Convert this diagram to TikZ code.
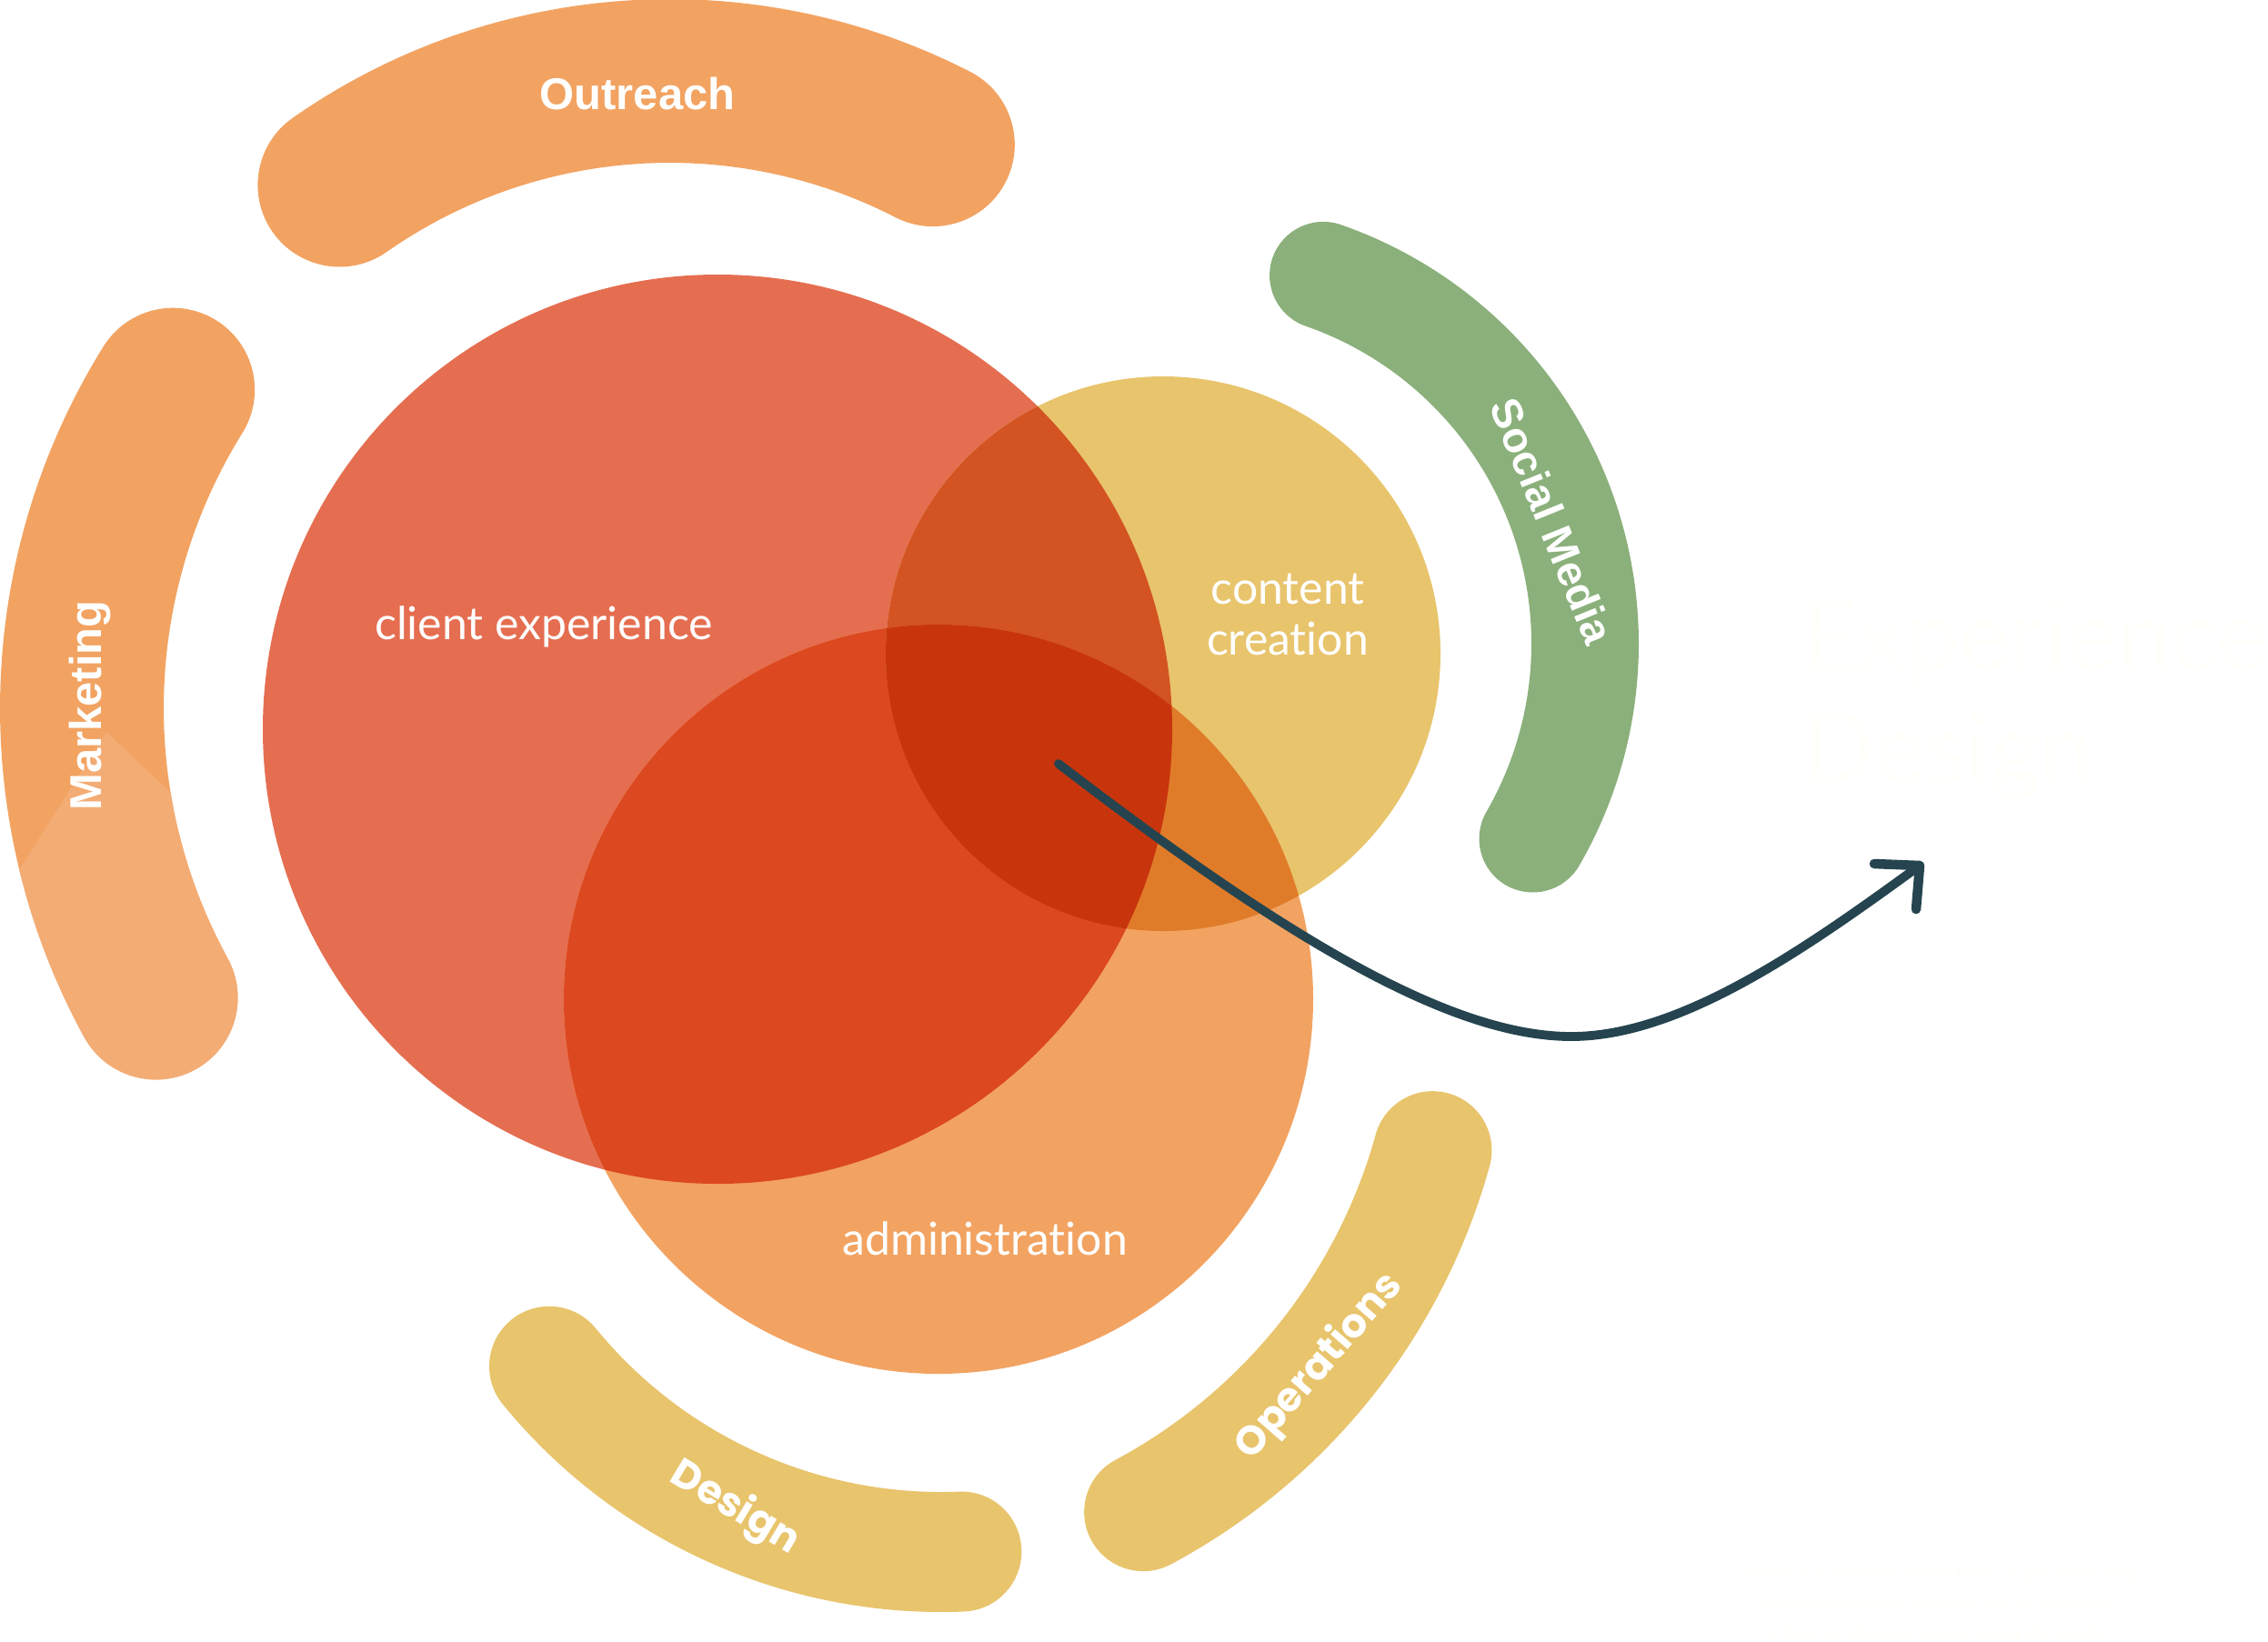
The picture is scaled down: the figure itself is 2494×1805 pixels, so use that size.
\documentclass[tikz,border=0pt]{standalone}
\usepackage{fontspec}
\setmainfont{Liberation Sans}
\newfontfamily\latofont{Lato}[Ligatures=CommonOff]
\newfontfamily\popfont{Poppins}
\usetikzlibrary{calc}
\definecolor{cRed}{HTML}{E56E51}
\definecolor{cYel}{HTML}{E8C46C}
\definecolor{cOra}{HTML}{F2A362}
\definecolor{cRA}{HTML}{DC4820}
\definecolor{cRY}{HTML}{D35322}
\definecolor{cYA}{HTML}{E07C29}
\definecolor{cRYA}{HTML}{C8350D}
\definecolor{cOraLight}{HTML}{F3AC74}
\definecolor{cGreen}{HTML}{8BB07B}
\definecolor{cArrow}{HTML}{25444F}
\definecolor{cCream}{HTML}{FFFEFA}
% band: #1 options, #2 cx, #3 cy, #4 mid radius, #5 half width, #6 start angle, #7 end angle
\newcommand\bandpath[7]{\path[#1] ($(#2,#3)+({#6}:{#4+#5})$) arc[start angle={#6}, end angle={#7}, radius={#4+#5}] arc[start angle={#7}, end angle={#7+180}, radius={#5}] arc[start angle={#7}, end angle={#6}, radius={#4-#5}] arc[start angle={#6+180}, end angle={#6+360}, radius={#5}] -- cycle;}
\tikzset{
  arclabel/.style={text=white, font=\fontsize{13.9}{16}\selectfont\bfseries, inner sep=0pt},
  arclabelB/.style={text=white, font=\popfont\fontsize{12.6}{15}\selectfont\bfseries, inner sep=0pt},
  circlabel/.style={text=white, font=\latofont\fontsize{14.2}{16.4}\selectfont, inner sep=0pt, align=center},
  arrowline/.style={draw=cArrow, line width=2.8pt, line cap=round, line join=round}
}
\begin{document}
\begin{tikzpicture}[x=0.01cm, y=0.01cm]
\useasboundingbox (0,0) rectangle (2494,-1805);
\fill[white] (0,0) rectangle (2494,-1805);

% outer bands
\bandpath{fill=cOra}{736.5}{-722}{633}{90}{62.8}{125}
\bandpath{fill=cOra}{753}{-779}{663}{90}{148.1}{208.7}
\begin{scope}
  \bandpath{clip}{753}{-779}{663}{90}{148.1}{208.7}
  \fill[cOraLight] (-43,-1058) -- (117,-805) -- (263,-943) -- (263,-1500) -- (-43,-1500) -- cycle;
\end{scope}
\bandpath{fill=cGreen}{1314}{-708}{429}{59}{-30}{70.8}
\bandpath{fill=cYel}{1035}{-1150}{557}{66}{-140.7}{-87.7}
\bandpath{fill=cYel}{951}{-1092}{648}{65}{-61.8}{-15.5}

% circles
\fill[cRed] (789,-802) circle[radius=500];
\fill[cYel] (1279,-719) circle[radius=305];
\fill[cOra] (1032,-1099) circle[radius=412];
\begin{scope}
  \clip (789,-802) circle[radius=500];
  \fill[cRA] (1032,-1099) circle[radius=412];
  \fill[cRY] (1279,-719) circle[radius=305];
\end{scope}
\begin{scope}
  \clip (1279,-719) circle[radius=305];
  \fill[cYA] (1032,-1099) circle[radius=412];
\end{scope}
\begin{scope}
  \clip (789,-802) circle[radius=500];
  \clip (1279,-719) circle[radius=305];
  \fill[cRYA] (1032,-1099) circle[radius=412];
\end{scope}

% circle labels
\node[circlabel] (client) at (598,-689) {client experience};
\node[circlabel] (content) at (1416,-676) {content\\[-0.5pt]creation};
\node[circlabel] (admin) at (1083,-1362) {administration};

% band labels
\node[arclabel] (outreach) at (701,-103) {Outreach};
\node[arclabel, rotate=90] (marketing) at (99,-776) {Marketing};
\node[arclabel, rotate=-68, font=\fontsize{13.4}{16}\selectfont\bfseries] (social) at (1707,-573) {Social Media};
\node[arclabelB, rotate=-31] (design) at (808,-1659) {Design};
\node[arclabelB, rotate=49] (operations) at (1451,-1503) {Operations};

% arrow
\coordinate (as) at (1164,-840);
\coordinate (ab) at (1728,-1140);
\coordinate (at) at (2111,-952);
\coordinate (ahl) at (2061,-950);
\coordinate (ahd) at (2107,-1000);
\draw[arrowline] (as) .. controls (1424,-1040) and (1600,-1140) .. (ab) .. controls (1850,-1140) and (1990,-1040) .. (at);
\draw[arrowline, line width=3pt] (ahl) -- (at) -- (ahd);

% faint white texts
\node[anchor=base west, text=cCream, font=\latofont\fontsize{30}{35}\selectfont, inner sep=0pt] (title1) at (1981,-736) {Experience};
\node[anchor=base west, text=cCream, font=\latofont\fontsize{30}{35}\selectfont, inner sep=0pt] (title2) at (1981,-860) {Design};
\node[text=cCream, font=\fontsize{5.7}{9.4}\selectfont\bfseries, align=center, inner sep=0pt] (note) at (2131,-1763) {*Work is currently under NDA. If you have any\\questions please contact me to schedule\\a time to discuss more about the work!};
\end{tikzpicture}
\end{document}
